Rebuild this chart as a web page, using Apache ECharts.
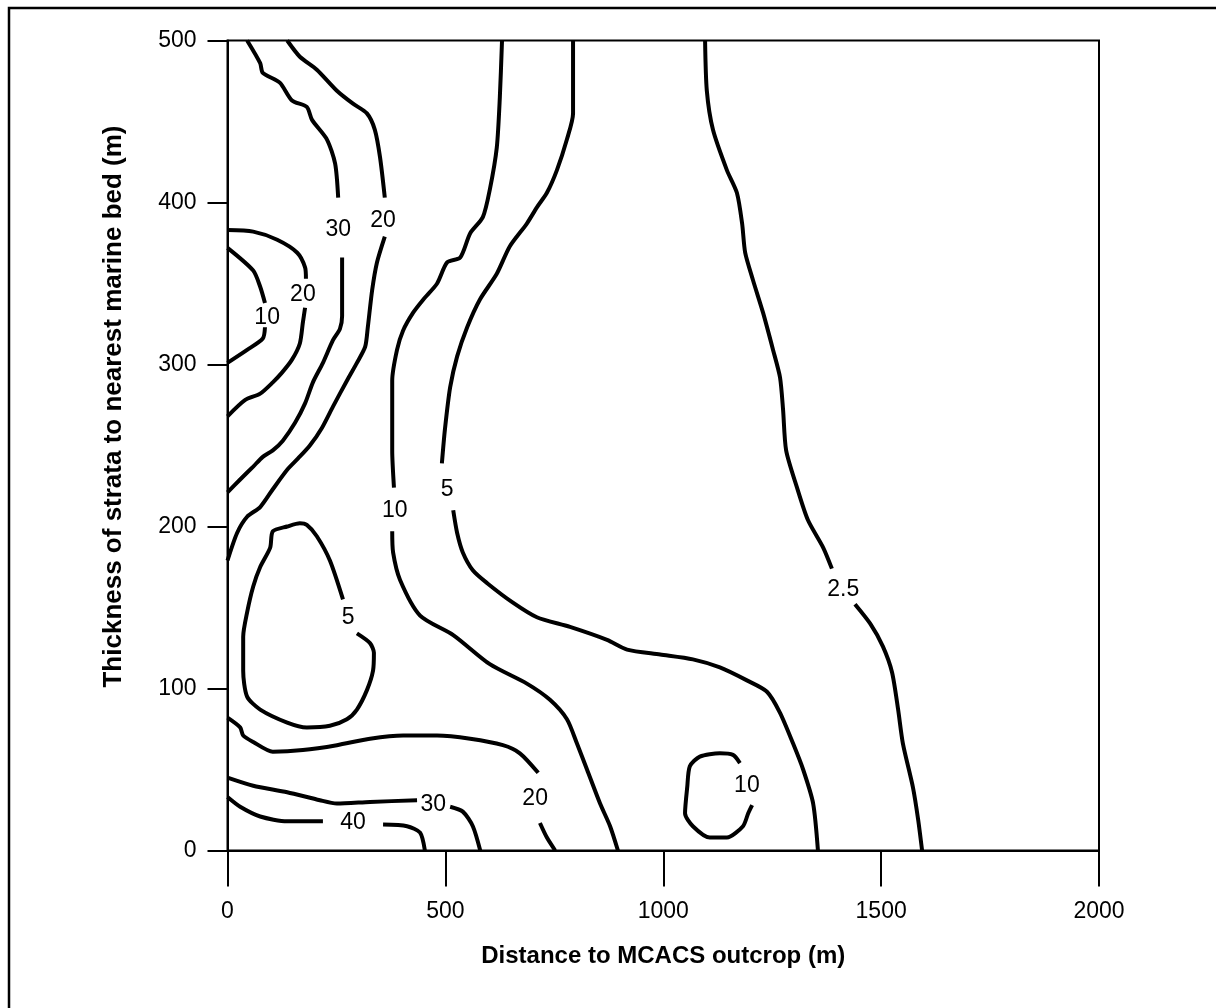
<!DOCTYPE html>
<html>
<head>
<meta charset="utf-8">
<script src="https://cdn.jsdelivr.net/npm/echarts@6/dist/echarts.min.js"></script>
<style>
  html, body { margin: 0; padding: 0; background: #fff; }
  #chart { width: 1216px; height: 1008px; }
</style>
</head>
<body>
<div id="chart"></div>
<script>
// Axis ticks
const xTicks = [0, 500, 1000, 1500, 2000];
const yTicks = [0, 100, 200, 300, 400, 500];

// Contour pieces [distance (m), thickness (m)], split where labels interrupt them
const c30TopA = [[45,500],[75,486],[81,480],[120,474],[148,463],[182,459],[194,451],[228,439],[247,424],[254,403]];
const c30TopB = [[263,366],[263,330],[258,322],[242,315],[219,301],[196,289],[178,276],[155,264],[127,253],[104,247],[81,243],[59,237],[29,229],[0,221]];
const c20TopA = [[137,500],[166,490],[205,482],[251,469],[288,461],[320,455],[338,445],[350,428],[361,403]];
const c20TopB = [[361,379],[343,363],[332,346],[322,323],[316,311],[297,301],[274,290],[242,274],[217,261],[189,250],[162,242],[137,235],[104,223],[75,212],[45,206],[22,196],[0,179]];
const c20InA = [[0,383],[59,382],[114,377],[160,369],[178,360],[180,353]];
const c20InB = [[178,335],[173,326],[166,313],[148,303],[125,295],[104,289],[75,282],[40,278],[0,268]];
const c10InA = [[0,372],[59,358],[75,348],[86,338]];
const c10InB = [[86,323],[81,316],[45,309],[0,301]];
const c10A = [[630,500],[625,465],[618,434],[602,408],[586,391],[557,381],[534,366],[504,363],[481,350],[449,340],[426,332],[403,321],[389,309],[378,290],[378,247],[382,224]];
const c10B = [[378,197],[380,184],[396,167],[442,145],[518,133],[602,115],[687,103],[740,93],[779,81],[802,66],[825,50],[855,29],[878,15],[896,0]];
const c5A = [[793,500],[793,455],[779,439],[756,420],[733,406],[710,397],[687,387],[648,373],[618,356],[579,340],[550,323],[527,305],[511,286],[499,260],[492,239]];
const c5B = [[518,210],[527,196],[540,184],[563,173],[596,165],[655,153],[710,144],[786,138],[871,130],[917,124],[993,121],[1068,118],[1130,113],[1192,105],[1238,98],[1268,85],[1298,66],[1321,50],[1344,29],[1355,0]];
const c25A = [[1096,500],[1100,469],[1114,445],[1146,420],[1169,406],[1181,387],[1188,369],[1206,352],[1229,332],[1252,309],[1268,292],[1275,272],[1282,247],[1307,224],[1332,204],[1367,187],[1387,174]];
const c25B = [[1440,152],[1475,140],[1504,126],[1525,110],[1539,87],[1550,66],[1573,39],[1585,19],[1594,0]];
const c5Loop = [[265,155],[235,179],[205,194],[182,201],[166,202],[137,200],[104,197],[98,187],[75,175],[59,163],[45,147],[36,132],[36,111],[45,95],[75,87],[137,79],[182,76],[235,77],[274,81],[297,87],[320,99],[334,111],[336,122],[327,128],[297,134]];
const c20LowA = [[0,82],[29,76],[36,71],[59,67],[104,61],[173,62],[251,65],[327,69],[403,71],[481,71],[557,69],[632,65],[671,60],[713,48]];
const c20LowB = [[717,17],[733,8],[752,0]];
const c30LowA = [[0,45],[59,40],[137,36],[212,31],[251,29],[327,30],[435,31]];
const c30LowB = [[511,27],[540,24],[563,15],[580,0]];
const c40A = [[0,33],[29,27],[75,21],[137,18],[219,18]];
const c40B = [[357,16],[412,15],[442,11],[453,0]];
const c10Loop = [[1176,54],[1160,59],[1130,60],[1084,58],[1061,52],[1055,39],[1050,23],[1068,15],[1107,8],[1146,8],[1183,15],[1195,23],[1204,28]];

// Contour labels
const labelText = ['30','20','20','10','10','5','5','2.5','20','30','40','10'];
const labelX    = [254, 357, 173, 91, 384, 504, 277, 1413, 706, 472, 288, 1192];
const labelY    = [383, 389, 343, 329, 210, 223, 144, 161, 32, 28, 17, 40];

const contourPieces = [c30TopA, c30TopB, c20TopA, c20TopB, c20InA, c20InB, c10InA, c10InB,
  c10A, c10B, c5A, c5B, c25A, c25B, c5Loop, c20LowA, c20LowB, c30LowA, c30LowB, c40A, c40B, c10Loop];

const FONT = "'Liberation Sans', Arial, Helvetica, sans-serif";

const series = contourPieces.map(d => ({
  type: 'line',
  data: d,
  showSymbol: false,
  symbol: 'none',
  smooth: 0.25,
  silent: true,
  lineStyle: { color: '#000', width: 4 },
  z: 3
}));

series.push({
  type: 'scatter',
  silent: true,
  symbol: 'circle',
  symbolSize: 1,
  itemStyle: { color: 'rgba(255,255,255,0)' },
  data: labelText.map((t, i) => ({ name: t, value: [labelX[i], labelY[i]] })),
  label: {
    show: true,
    position: 'inside',
    formatter: '{b}',
    color: '#000',
    opacity: 1,
    textBorderWidth: 0,
    textBorderColor: 'transparent',
    fontSize: 23,
    fontFamily: FONT
  },
  z: 4
});

const chart = echarts.init(document.getElementById('chart'), null, { renderer: 'canvas' });
chart.setOption({
  animation: false,
  backgroundColor: '#fff',
  graphic: [{
    type: 'rect',
    shape: { x: 9, y: 8, width: 1230, height: 1030 },
    style: { fill: 'none', stroke: '#000', lineWidth: 2.5 },
    silent: true
  }],
  grid: {
    left: 227.5, top: 40.5, right: 117, bottom: 157.5,
    show: true, borderColor: '#000', borderWidth: 2, backgroundColor: 'transparent'
  },
  xAxis: {
    type: 'value', min: xTicks[0], max: xTicks[xTicks.length - 1], interval: 500,
    name: 'Distance to MCACS outcrop (m)', nameLocation: 'middle', nameGap: 94,
    nameTextStyle: { fontSize: 24, fontWeight: 'bold', color: '#000', fontFamily: FONT },
    axisLine: { show: true, lineStyle: { color: '#000', width: 2 } },
    axisTick: { show: true, inside: false, length: 36, lineStyle: { color: '#000', width: 2 } },
    axisLabel: { fontSize: 23, color: '#000', fontFamily: FONT, margin: 50, formatter: v => String(v) },
    splitLine: { show: false }
  },
  yAxis: {
    type: 'value', min: yTicks[0], max: yTicks[yTicks.length - 1], interval: 100,
    name: 'Thickness of strata to nearest marine bed (m)', nameLocation: 'middle', nameGap: 101,
    nameRotate: 90,
    nameTextStyle: { fontSize: 26, fontWeight: 'bold', color: '#000', fontFamily: FONT, padding: [0, 0, 0, 78] },
    axisLine: { show: true, lineStyle: { color: '#000', width: 2 } },
    axisTick: { show: true, inside: false, length: 20, lineStyle: { color: '#000', width: 2 } },
    axisLabel: { fontSize: 23, color: '#000', fontFamily: FONT, margin: 31, formatter: v => String(v) },
    splitLine: { show: false }
  },
  series: series
});
</script>
</body>
</html>
